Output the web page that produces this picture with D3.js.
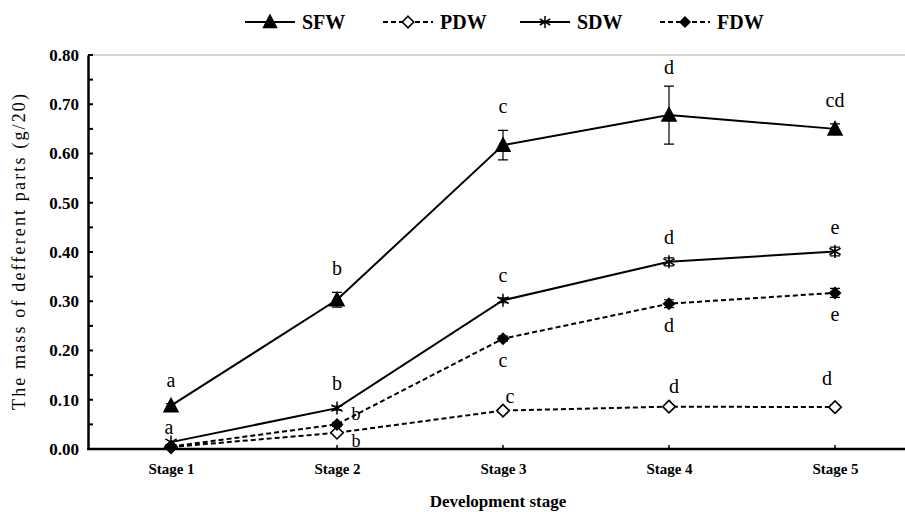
<!DOCTYPE html>
<html><head><meta charset="utf-8">
<script src="https://cdn.jsdelivr.net/npm/d3@7"></script>
<style>body{margin:0;background:#fff}svg{display:block}</style>
</head><body><svg id="c" width="905" height="512"></svg>
<script>
const stages = ["Stage 1","Stage 2","Stage 3","Stage 4","Stage 5"];
const yTicks = [0,0.1,0.2,0.3,0.4,0.5,0.6,0.7,0.8];
const sfw = [0.088,0.303,0.617,0.678,0.650];
const sfwErr = [0.004,0.015,0.030,0.059,0.010];
const pdw = [0.004,0.033,0.078,0.086,0.085];
const pdwErr = [0.002,0.003,0.004,0.004,0.004];
const sdw = [0.014,0.083,0.302,0.380,0.401];
const sdwErr = [0.003,0.004,0.005,0.008,0.009];
const fdw = [0.005,0.050,0.224,0.295,0.317];
const fdwErr = [0.002,0.004,0.005,0.008,0.009];
const sfwLetters = ["a","b","c","d","cd"];
const pdwLetters = ["","b","c","d","d"];
const sdwLetters = ["a","b","c","d","e"];
const fdwLetters = ["","b","c","d","e"];
const legendNames = ["SFW","PDW","SDW","FDW"];

const svg = d3.select("#c");
const L = 88, R = 918, T = 55, B = 449;
const x = d3.scalePoint().domain(stages).range([L, R]).padding(0.5);
const y = d3.scaleLinear().domain([0, 0.8]).range([B, T]);
const serif = "'Liberation Serif','Times New Roman',serif";

// top frame line
svg.append("line").attr("x1", L).attr("x2", 905).attr("y1", T).attr("y2", T)
  .attr("stroke", "#aaa").attr("stroke-width", 1);

// y axis
const ya = svg.append("g").attr("transform", `translate(${L},0)`)
  .call(d3.axisLeft(y).tickValues(yTicks).tickFormat(d3.format(".2f")).tickSize(0).tickPadding(9));
ya.select(".domain").attr("stroke", "#000").attr("stroke-width", 2.5);
ya.selectAll("text").attr("font-family", serif).attr("font-weight", "bold").attr("font-size", 17).attr("fill", "#000");
const minor = d3.range(0, 0.81, 0.05);
svg.append("g").selectAll("line").data(minor).join("line")
  .attr("x1", L).attr("x2", L + 5).attr("y1", d => y(d)).attr("y2", d => y(d))
  .attr("stroke", "#000").attr("stroke-width", 2);

// x axis
const xa = svg.append("g").attr("transform", `translate(0,${B})`)
  .call(d3.axisBottom(x).tickSize(0).tickPadding(14));
xa.select(".domain").remove();
svg.append("line").attr("x1", L - 1).attr("x2", 905).attr("y1", B).attr("y2", B)
  .attr("stroke", "#000").attr("stroke-width", 2.5);
svg.append("g").selectAll("line").data(stages).join("line")
  .attr("x1", d => x(d)).attr("x2", d => x(d)).attr("y1", B - 4).attr("y2", B)
  .attr("stroke", "#000").attr("stroke-width", 1.5);
xa.selectAll("text").attr("font-family", serif).attr("font-weight", "bold").attr("font-size", 15).attr("fill", "#000");

// axis titles
svg.append("text").attr("x", 498).attr("y", 507).attr("text-anchor", "middle")
  .attr("font-family", serif).attr("font-weight", "bold").attr("font-size", 17).text("Development stage");
svg.append("text").attr("transform", "translate(25,252) rotate(-90)").attr("text-anchor", "middle")
  .attr("font-family", serif).attr("font-size", 18).attr("textLength", 316).text("The mass of defferent parts (g/20)");

// markers
function marker(g, type, cx, cy, s) {
  if (type === "tri") {
    g.append("path").attr("d", `M${cx},${cy - s * 0.6}L${cx + s * 0.55},${cy + s * 0.45}L${cx - s * 0.55},${cy + s * 0.45}Z`).attr("fill", "#000");
  } else if (type === "odia") {
    const r = s * 0.48;
    g.append("path").attr("d", `M${cx},${cy - r}L${cx + r},${cy}L${cx},${cy + r}L${cx - r},${cy}Z`).attr("fill", "#fff").attr("stroke", "#000").attr("stroke-width", 1.6);
  } else if (type === "fdia") {
    const r = s * 0.5;
    g.append("path").attr("d", `M${cx},${cy - r}L${cx + r},${cy}L${cx},${cy + r}L${cx - r},${cy}Z`).attr("fill", "#000");
  } else if (type === "star") {
    const r = s * 0.5, dx = r * 0.87, dy = r * 0.5;
    g.append("path").attr("d", `M${cx},${cy - r}L${cx},${cy + r}M${cx - dx},${cy - dy}L${cx + dx},${cy + dy}M${cx - dx},${cy + dy}L${cx + dx},${cy - dy}`)
      .attr("stroke", "#000").attr("stroke-width", 1.5).attr("fill", "none");
  }
}

const series = [
  {name: "PDW", vals: pdw, err: pdwErr, m: "odia", dash: "5,3", letters: pdwLetters},
  {name: "FDW", vals: fdw, err: fdwErr, m: "fdia", dash: "5,3", letters: fdwLetters},
  {name: "SDW", vals: sdw, err: sdwErr, m: "star", dash: null, letters: sdwLetters},
  {name: "SFW", vals: sfw, err: sfwErr, m: "tri", dash: null, letters: sfwLetters}
];
const line = d3.line().x((d, i) => x(stages[i])).y(d => y(d));
const plot = svg.append("g");
series.forEach(s => {
  plot.append("path").datum(s.vals).attr("d", line).attr("fill", "none").attr("stroke", "#000")
    .attr("stroke-width", 2).attr("stroke-dasharray", s.dash);
});
series.forEach(s => {
  const g = plot.append("g");
  s.vals.forEach((v, i) => {
    const cx = x(stages[i]);
    const e = s.err[i];
    if (e > 0.003) {
      g.append("path").attr("d", `M${cx},${y(v + e)}L${cx},${y(v - e)}M${cx - 5},${y(v + e)}L${cx + 5},${y(v + e)}M${cx - 5},${y(v - e)}L${cx + 5},${y(v - e)}`)
        .attr("stroke", "#000").attr("stroke-width", 1.2).attr("fill", "none");
    }
    marker(g, s.m, cx, y(v), s.m === "tri" ? 15 : 13);
  });
});

// significance letters
function letter(txt, px, py, fs) {
  if (!txt) return;
  svg.append("text").attr("x", px).attr("y", py).attr("text-anchor", "middle")
    .attr("font-family", serif).attr("font-size", fs || 20).text(txt);
}
sfwLetters.forEach((t, i) => letter(t, x(stages[i]), y(sfw[i] + sfwErr[i]) - (i === 3 ? 12 : 17)));
sdwLetters.forEach((t, i) => letter(t, x(stages[i]) + (i === 0 ? -2 : 0), y(sdw[i]) - (i === 0 ? 8 : 18)));
fdwLetters.forEach((t, i) => {
  if (i === 1) letter(t, x(stages[i]) + 19, y(fdw[i]) - 4, 18);
  else letter(t, x(stages[i]), y(fdw[i]) + 28);
});
pdwLetters.forEach((t, i) => {
  if (i === 1) letter(t, x(stages[i]) + 19, y(pdw[i]) + 14, 18);
  else if (i === 2) letter(t, x(stages[i]) + 7, y(pdw[i]) - 8);
  else letter(t, x(stages[i]) + (i === 3 ? 5 : -8), y(pdw[i]) - (i === 3 ? 14 : 22));
});

// legend
const legItems = [
  {name: legendNames[0], m: "tri", dash: null, x1: 245},
  {name: legendNames[1], m: "odia", dash: "5,3", x1: 383},
  {name: legendNames[2], m: "star", dash: null, x1: 520},
  {name: legendNames[3], m: "fdia", dash: "5,3", x1: 660}
];
const ly = 22;
legItems.forEach(it => {
  const g = svg.append("g");
  g.append("line").attr("x1", it.x1).attr("x2", it.x1 + 50).attr("y1", ly).attr("y2", ly)
    .attr("stroke", "#000").attr("stroke-width", 2).attr("stroke-dasharray", it.dash);
  marker(g, it.m, it.x1 + 25, ly, it.m === "tri" ? 14 : 12);
  g.append("text").attr("x", it.x1 + 57).attr("y", ly + 7).attr("font-family", serif)
    .attr("font-weight", "bold").attr("font-size", 20).text(it.name);
});
</script></body></html>
